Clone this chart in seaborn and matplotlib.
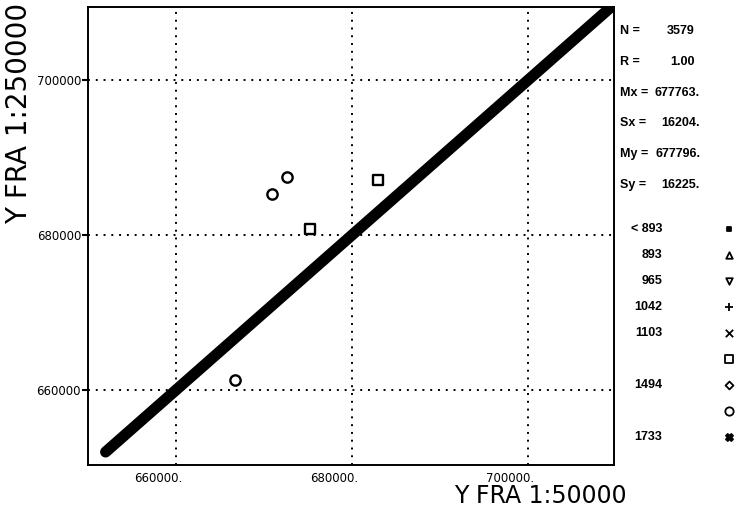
import matplotlib
matplotlib.use('Agg')
import matplotlib.pyplot as plt
import matplotlib.transforms as mtransforms
import seaborn as sns

sns.set_theme(style='white')
plt.rcParams['font.family'] = ['DejaVu Sans']
plt.rcParams['text.color'] = 'black'
plt.rcParams['xtick.color'] = 'black'
plt.rcParams['ytick.color'] = 'black'

# dense diagonal band (3579 points lying on y = x): its two ends
band_x = [652000, 709500]
band_y = [652000, 709500]

# the few points off the diagonal
circle_x = [670900, 672600, 666700]
circle_y = [685300, 687500, 661300]
square_x = [675200, 682900]
square_y = [680800, 687100]

# statistics block
stat_names = ['N =', 'R =', 'Mx =', 'Sx =', 'My =', 'Sy =']
stat_values = ['3579', '1.00', '677763.', '16204.', '677796.', '16225.']

# class key
class_labels = ['< 893', '893', '965', '1042', '1103', '', '1494', '', '1733']
class_markers = ['s', '^', 'v', '+', 'x', 's', 'D', 'o', 'X']
class_sizes = [10, 22, 22, 30, 28, 36, 16, 36, 26]

x_ticks = [660000, 680000, 700000]
x_tick_labels = ['660000.', '680000.', '700000.']
y_ticks = [660000, 680000, 700000]
y_tick_labels = ['660000', '680000', '700000']

narrow = 'Liberation Sans'

fig = plt.figure(figsize=(7.37, 5.11), dpi=100)
ax = fig.add_axes([0.1194, 0.090, 0.714, 0.896])

sns.lineplot(x=band_x, y=band_y, ax=ax, color='black', linewidth=8,
             solid_capstyle='round', zorder=3)
sns.scatterplot(x=circle_x, y=circle_y, ax=ax, marker='o', s=55,
                facecolor='white', edgecolor='black', linewidth=1.7, zorder=4)
sns.scatterplot(x=square_x, y=square_y, ax=ax, marker='s', s=55,
                facecolor='white', edgecolor='black', linewidth=1.7, zorder=4)

ax.set_xlim(650000, 709800)
ax.set_ylim(650320, 709420)
ax.set_xticks(x_ticks, x_tick_labels)
ax.set_yticks(y_ticks, y_tick_labels)
ax.set_axisbelow(True)
ax.grid(True, color='black', linestyle=(0, (1, 3)), linewidth=1.4)
ax.tick_params(axis='x', length=0, pad=5, labelsize=8.5)
ax.tick_params(axis='y', left=True, length=4, width=1.5, direction='out',
               pad=1, labelsize=8.5)
ax.set_xlabel('')
ax.set_ylabel('')
for sp in ax.spines.values():
    sp.set_color('black')
    sp.set_linewidth(1.4)

# x tick labels sit just left of their grid line
shift = mtransforms.ScaledTranslation(6 / 100, 0, fig.dpi_scale_trans)
for lbl in ax.get_xticklabels():
    lbl.set_ha('right')
    lbl.set_transform(lbl.get_transform() + shift)

fig.text(627 / 737, 1 - 496 / 511, 'Y FRA 1:50000', ha='right', va='center',
         fontsize=17)
fig.text(19 / 737, 1 - 3 / 511, 'Y FRA 1:250000', rotation=90, ha='center',
         va='top', fontsize=20)

# statistics on the right
for i, (name, val) in enumerate(zip(stat_names, stat_values)):
    y = 1 - (31 + i * 30.8) / 511
    right = 700 if val.endswith('.') else 695
    fig.text(620 / 737, y, name, ha='left', va='center', fontsize=9,
             fontweight='bold', family=narrow)
    fig.text(right / 737, y, val, ha='right', va='center', fontsize=9,
             fontweight='bold', family=narrow)

# class key on the right
key = fig.add_axes([620 / 737, 1 - 450 / 511, 117 / 737, 234 / 511])
key.set_xlim(0, 1)
key.set_ylim(len(class_labels) - 0.5, -0.5)
key.axis('off')
for i, (lab, mk, sz) in enumerate(zip(class_labels, class_markers, class_sizes)):
    filled = i in (0, 8)
    if mk in ('+', 'x'):
        sns.scatterplot(x=[0.93], y=[i], ax=key, marker=mk, s=sz,
                        color='black', linewidth=1.3)
    else:
        sns.scatterplot(x=[0.93], y=[i], ax=key, marker=mk, s=sz,
                        facecolor='black' if filled else 'white',
                        edgecolor='black', linewidth=1.3)
    if lab:
        key.text(0.36, i, lab, ha='right', va='center', fontsize=9,
                 fontweight='bold', family=narrow)

fig.savefig('out.png', dpi=100)
